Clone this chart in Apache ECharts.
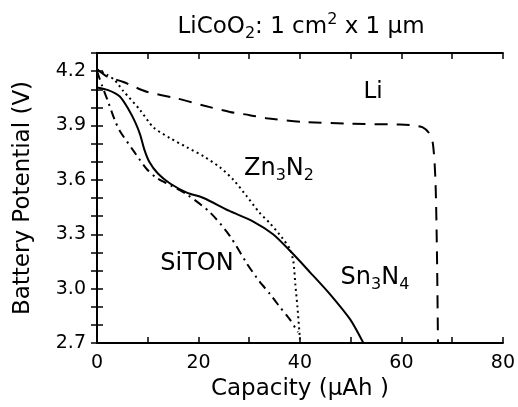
<!DOCTYPE html>
<html>
<head>
<meta charset="utf-8">
<script src="https://cdn.jsdelivr.net/npm/echarts@6/dist/echarts.min.js"></script>
<style>
  html, body { margin: 0; padding: 0; background: #fff; }
  #chart { width: 518px; height: 407px; }
</style>
</head>
<body>
<div id="chart"></div>
<script>
// 放电曲线数据 (capacity uAh, potential V)
var liCap = [0, 2, 5.2, 9.8, 15.7, 21, 26.2, 30.1, 33.4, 40.6, 50, 59.7, 62.5, 64.2, 65.4, 66.2, 66.7, 67.0, 67.2];
var liVolt = [4.21, 4.17, 4.14, 4.086, 4.05, 4.01, 3.975, 3.957, 3.94, 3.92, 3.91, 3.905, 3.90, 3.89, 3.86, 3.80, 3.6, 3.2, 2.7];

var znCap = [0, 2, 3.5, 5.2, 8.5, 11.1, 14.4, 17.7, 21, 24.2, 26.9, 29.5, 32, 34.1, 36.5, 38, 38.7, 39.1, 39.5, 40];
var znVolt = [4.21, 4.18, 4.15, 4.09, 3.985, 3.89, 3.83, 3.78, 3.73, 3.67, 3.60, 3.51, 3.42, 3.36, 3.28, 3.22, 3.15, 3.02, 2.9, 2.72];

var snCap = [0, 2.2, 4.5, 6.2, 7.5, 8.5, 9.3, 10.3, 12, 14.4, 17.7, 21, 26, 30.8, 34.7, 38, 42, 45.9, 49.9, 52.5];
var snVolt = [4.11, 4.095, 4.06, 3.99, 3.92, 3.85, 3.77, 3.70, 3.635, 3.58, 3.53, 3.50, 3.43, 3.37, 3.30, 3.21, 3.09, 2.97, 2.83, 2.7];

var siCap = [0, 1, 2.2, 3.5, 4.5, 7.2, 9.8, 11.8, 14.5, 17.7, 22.3, 26.2, 29.5, 32, 34.1, 36, 38, 39.6];
var siVolt = [4.2, 4.12, 4.03, 3.93, 3.87, 3.76, 3.66, 3.61, 3.57, 3.52, 3.42, 3.29, 3.14, 3.04, 2.97, 2.9, 2.83, 2.76];

function pairs(xs, ys) {
    var out = [];
    for (var i = 0; i < xs.length; i++) out.push([xs[i], ys[i]]);
    return out;
}

var font = '"DejaVu Sans", "Liberation Sans", sans-serif';
var chart = echarts.init(document.getElementById('chart'));

var axisLine = { show: true, lineStyle: { color: '#000', width: 2 } };
var tick = { show: true, inside: true, length: 6, lineStyle: { color: '#000', width: 1.5 } };

// 上下标用 rich 文本
function richStyle(size) {
    return {
        n: { fontFamily: font, fontSize: size, color: '#000', verticalAlign: 'bottom', padding: [4, 0, 3, 0] },
        s: { fontFamily: font, fontSize: Math.round(size * 0.68), color: '#000', verticalAlign: 'bottom' },
        p: { fontFamily: font, fontSize: Math.round(size * 0.68), color: '#000', verticalAlign: 'top' }
    };
}
function label(x, y, text, size) {
    return {
        type: 'text', x: x, y: y,
        style: { text: text, rich: richStyle(size), align: 'center', verticalAlign: 'middle' }
    };
}

var option = {
    backgroundColor: '#fff',
    animation: false,
    grid: { left: 97, right: 15, top: 53, bottom: 64 },
    xAxis: [{
        type: 'value', min: 0, max: 80, interval: 10,
        name: 'Capacity (\u03bcAh )', nameLocation: 'middle', nameGap: 35,
        nameTextStyle: { fontFamily: font, fontSize: 23, color: '#000' },
        axisLine: axisLine, axisTick: tick, splitLine: { show: false },
        axisLabel: {
            fontFamily: font, fontSize: 19, color: '#000', margin: 11,
            formatter: function(v) { return v % 20 === 0 ? String(v) : ''; }
        }
    }, {
        type: 'value', min: 0, max: 80, interval: 10, position: 'top',
        axisLine: axisLine, axisTick: tick, axisLabel: { show: false }, splitLine: { show: false }
    }],
    yAxis: [{
        type: 'value', min: 2.7, max: 4.3, interval: 0.1,
        name: 'Battery Potential (V)', nameLocation: 'middle', nameGap: 62,
        nameTextStyle: { fontFamily: font, fontSize: 23, color: '#000' },
        axisLine: axisLine, axisTick: tick, splitLine: { show: false },
        axisLabel: {
            fontFamily: font, fontSize: 19, color: '#000', margin: 11,
            formatter: function(v) {
                var k = Math.round(v * 10);
                return (k % 3 === 0 && k <= 42) ? v.toFixed(1) : '';
            }
        }
    }, {
        type: 'value', min: 2.7, max: 4.3, interval: 0.1, position: 'right',
        axisLine: axisLine, axisTick: tick, axisLabel: { show: false }, splitLine: { show: false }
    }],
    series: [{
        name: 'Li', type: 'line', smooth: 0.25, symbol: 'none',
        lineStyle: { color: '#000', width: 2, type: [13, 9] },
        data: pairs(liCap, liVolt)
    }, {
        name: 'Zn3N2', type: 'line', smooth: 0.25, symbol: 'none',
        lineStyle: { color: '#000', width: 2, type: [2, 3.5] },
        data: pairs(znCap, znVolt)
    }, {
        name: 'Sn3N4', type: 'line', smooth: 0.25, symbol: 'none',
        lineStyle: { color: '#000', width: 2 },
        data: pairs(snCap, snVolt)
    }, {
        name: 'SiTON', type: 'line', smooth: 0.25, symbol: 'none',
        lineStyle: { color: '#000', width: 2, type: [9, 5, 2, 5] },
        data: pairs(siCap, siVolt)
    }],
    graphic: [
        label(301, 27, '{n|LiCoO}{s|2}{n|: 1 cm}{p|2}{n| x 1 \u03bcm}', 23),
        label(373, 92, '{n|Li}', 23),
        label(279, 168, '{n|Zn}{s|3}{n|N}{s|2}', 24),
        label(197, 263, '{n|SiTON}', 24),
        label(375, 277, '{n|Sn}{s|3}{n|N}{s|4}', 24)
    ]
};
chart.setOption(option);
</script>
</body>
</html>
